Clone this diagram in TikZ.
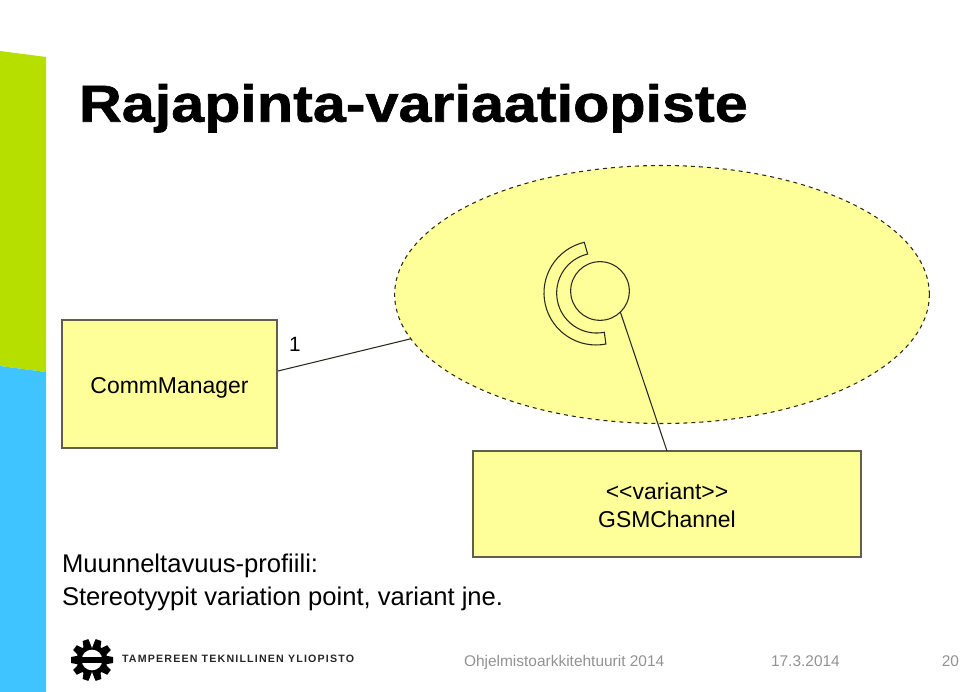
\documentclass[tikz,border=0pt]{standalone}
\usepackage{fontspec}
\setmainfont{Liberation Sans}
\newfontfamily\logofont[UprightFont=* Bold, LetterSpace=11]{Liberation Sans}
\newfontfamily\titlefont[UprightFont=* Bold, FakeStretch=1.14, FakeBold=1.2]{Liberation Sans}
\usetikzlibrary{shapes.geometric}
\definecolor{ink}{HTML}{2A2A1E}
\definecolor{edge}{HTML}{5F5F4A}
\definecolor{note}{HTML}{FFFF99}
\definecolor{lime}{HTML}{B6DF00}
\definecolor{sky}{HTML}{40C4FF}
\definecolor{footgrey}{HTML}{929292}
\newcommand{\boxline}[2]{\raisebox{-#1}[\height][0pt]{#2}}
\tikzset{
  classbox/.style={draw=edge, fill=note, line width=1pt, inner sep=0pt, outer sep=0pt, align=center, font=\fontsize{17.2pt}{21pt}\selectfont},
  label/.style={inner sep=0pt, outer sep=0pt, anchor=west, black},
  footer/.style={inner sep=0pt, outer sep=0pt, footgrey, font=\fontsize{11.6pt}{14pt}\selectfont},
  thinline/.style={draw=ink, line width=0.8pt}
}
\begin{document}
\begin{tikzpicture}[x=0.75pt, y=-0.75pt]
  \useasboundingbox (0,0) rectangle (960,692);
  \fill[lime] (0,51) -- (46,57) -- (46,372) -- (0,366) -- cycle;
  \fill[sky] (0,366) -- (46,372) -- (46,692) -- (0,692) -- cycle;
  \node[label, anchor=base west, font=\titlefont\fontsize{39pt}{47pt}\selectfont] (title) at (79,121.7) {Rajapinta-variaatiopiste};
  \node[classbox, minimum width=161.25pt, minimum height=96pt] (commmanager) at (169.5,384) {\boxline{0.8pt}{CommManager}};
  \node[ellipse, dashed, draw=ink, fill=note, line width=0.8pt, inner sep=0pt, outer sep=0pt, minimum width=401pt, minimum height=193.5pt] (variationpoint) at (662,294.5) {};
  \node[classbox, minimum width=291pt, minimum height=79.5pt] (gsmchannel) at (667,504) {\boxline{1pt}{{<}{<}variant{>}{>}}\\\boxline{1pt}{GSMChannel}};
  \node[circle, thinline, inner sep=0pt, outer sep=0pt, minimum size=44pt] (ball) at (600,291) {};
  \draw[thinline] (584.3,242.3) arc[start angle=-103, end angle=-281, radius=52] -- (604.3,332.3) arc[start angle=-281, end angle=-103, radius=40] -- cycle;
  \coordinate (assocstart) at (278,371);
  \draw[thinline] (assocstart) -- (variationpoint.190);
  \draw[thinline] (ball.-46) -- (gsmchannel.north);
  \node[label, font=\fontsize{15.5pt}{18pt}\selectfont] (multiplicity) at (289,344) {1};
  \node[label, align=left, font=\fontsize{19.2pt}{24.7pt}\selectfont] (profilenote) at (62,582) {Muunneltavuus-profiili:\\Stereotyypit variation point, variant jne.};
  \foreach \ang in {18,54,...,342}
    \fill[black, rotate around={\ang:(92,660)}] (89,639) -- (95,639) -- (97,650) -- (87,650) -- cycle;
  \node[circle, fill=black, inner sep=0pt, outer sep=0pt, minimum size=23pt] (gearbody) at (92,660) {};
  \fill[white] (88,637) -- (96,637) -- (92,648) -- cycle (88,683) -- (96,683) -- (92,672) -- cycle;
  \node[circle, fill=white, inner sep=0pt, outer sep=0pt, minimum size=15.5pt] (gearhole) at (92,660) {};
  \node[fill=black, inner sep=0pt, outer sep=0pt, minimum width=19pt, minimum height=4.2pt] (gearbar) at (92,660) {};
  \node[label, font=\logofont\fontsize{8pt}{9pt}\selectfont, text=black!85] (logotext) at (122,659) {TAMPEREEN TEKNILLINEN YLIOPISTO};
  \node[footer, anchor=base west] (course) at (464,666) {Ohjelmistoarkkitehtuurit 2014};
  \node[footer, anchor=base west] (date) at (771,666) {17.3.2014};
  \node[footer, anchor=base east] (pagenum) at (959,666) {20};
\end{tikzpicture}
\end{document}
